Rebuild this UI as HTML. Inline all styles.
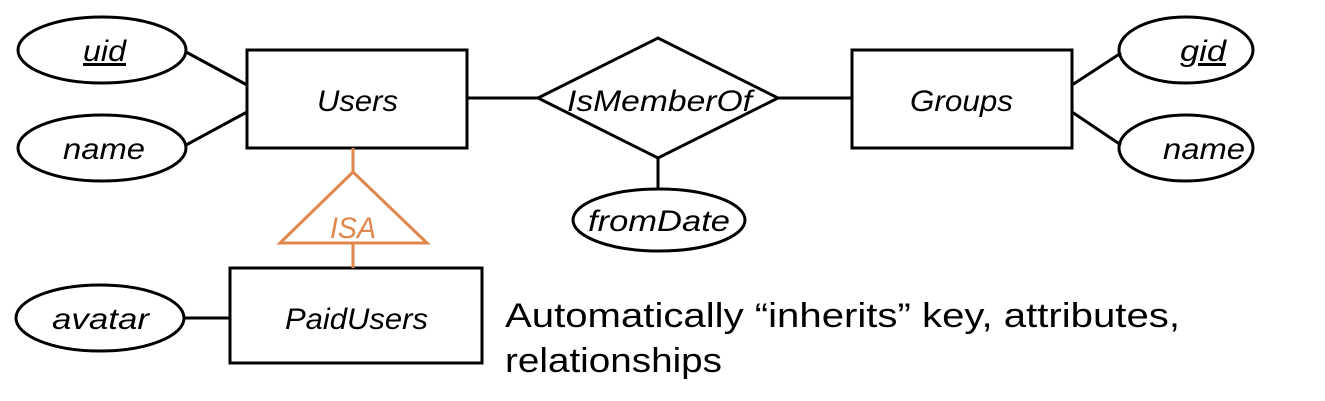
<!DOCTYPE html>
<html><head><meta charset="utf-8"><style>
html,body{margin:0;padding:0;background:#fff;}
svg{display:block;}
text{font-family:"Liberation Sans",sans-serif;}
.i{font-style:italic;font-size:30px;fill:#000;}
</style></head><body>
<svg width="1325" height="401" viewBox="0 0 1325 401" xmlns="http://www.w3.org/2000/svg">
<g fill="none" stroke="#000" stroke-width="3">
<ellipse cx="102" cy="50" rx="84" ry="33" fill="#fff"/>
<ellipse cx="102" cy="148" rx="84" ry="33" fill="#fff"/>
<rect x="247" y="50" width="220" height="98"/>
<polygon points="538,98 658,38 778,98 658,158"/>
<rect x="852" y="50" width="220" height="98"/>
<ellipse cx="1186" cy="50" rx="67" ry="33"/>
<ellipse cx="1186" cy="148" rx="67" ry="33"/>
<ellipse cx="659" cy="220" rx="86" ry="31"/>
<rect x="230" y="268" width="252" height="95"/>
<ellipse cx="100" cy="318" rx="84" ry="33"/>
<line x1="186" y1="52" x2="247" y2="85"/>
<line x1="186" y1="145" x2="247" y2="112"/>
<line x1="467" y1="98" x2="538" y2="98"/>
<line x1="778" y1="98" x2="852" y2="98"/>
<line x1="1072" y1="85" x2="1121" y2="53"/>
<line x1="1072" y1="112" x2="1121" y2="145"/>
<line x1="658" y1="158" x2="658" y2="189"/>
<line x1="184" y1="318" x2="230" y2="318"/>
</g>
<g fill="none" stroke="#e0874e" stroke-width="3">
<line x1="353" y1="148" x2="353" y2="172"/>
<polygon points="353,172 427,243 280,243"/>
<line x1="353" y1="243" x2="353" y2="268"/>
</g>
<text class="i" x="83" y="61" textLength="43" lengthAdjust="spacingAndGlyphs" text-decoration="underline">uid</text>
<text class="i" x="63" y="159" textLength="82" lengthAdjust="spacingAndGlyphs">name</text>
<text class="i" x="317" y="111" textLength="81" lengthAdjust="spacingAndGlyphs">Users</text>
<text class="i" x="567" y="111" textLength="185" lengthAdjust="spacingAndGlyphs">IsMemberOf</text>
<text class="i" x="910" y="111" textLength="103" lengthAdjust="spacingAndGlyphs">Groups</text>
<text class="i" x="1180" y="61" textLength="46" lengthAdjust="spacingAndGlyphs" text-decoration="underline">gid</text>
<text class="i" x="1163" y="159" textLength="82" lengthAdjust="spacingAndGlyphs">name</text>
<text class="i" x="588" y="231" textLength="142" lengthAdjust="spacingAndGlyphs">fromDate</text>
<text class="i" x="330" y="238" textLength="46" lengthAdjust="spacingAndGlyphs" style="fill:#e0874e">ISA</text>
<text class="i" x="285" y="329" textLength="143" lengthAdjust="spacingAndGlyphs">PaidUsers</text>
<text class="i" x="52" y="329" textLength="97" lengthAdjust="spacingAndGlyphs">avatar</text>
<text x="505" y="327" font-size="34" textLength="675" lengthAdjust="spacingAndGlyphs">Automatically “inherits” key, attributes,</text>
<text x="505" y="372" font-size="34" textLength="217" lengthAdjust="spacingAndGlyphs">relationships</text>
</svg>
</body></html>
